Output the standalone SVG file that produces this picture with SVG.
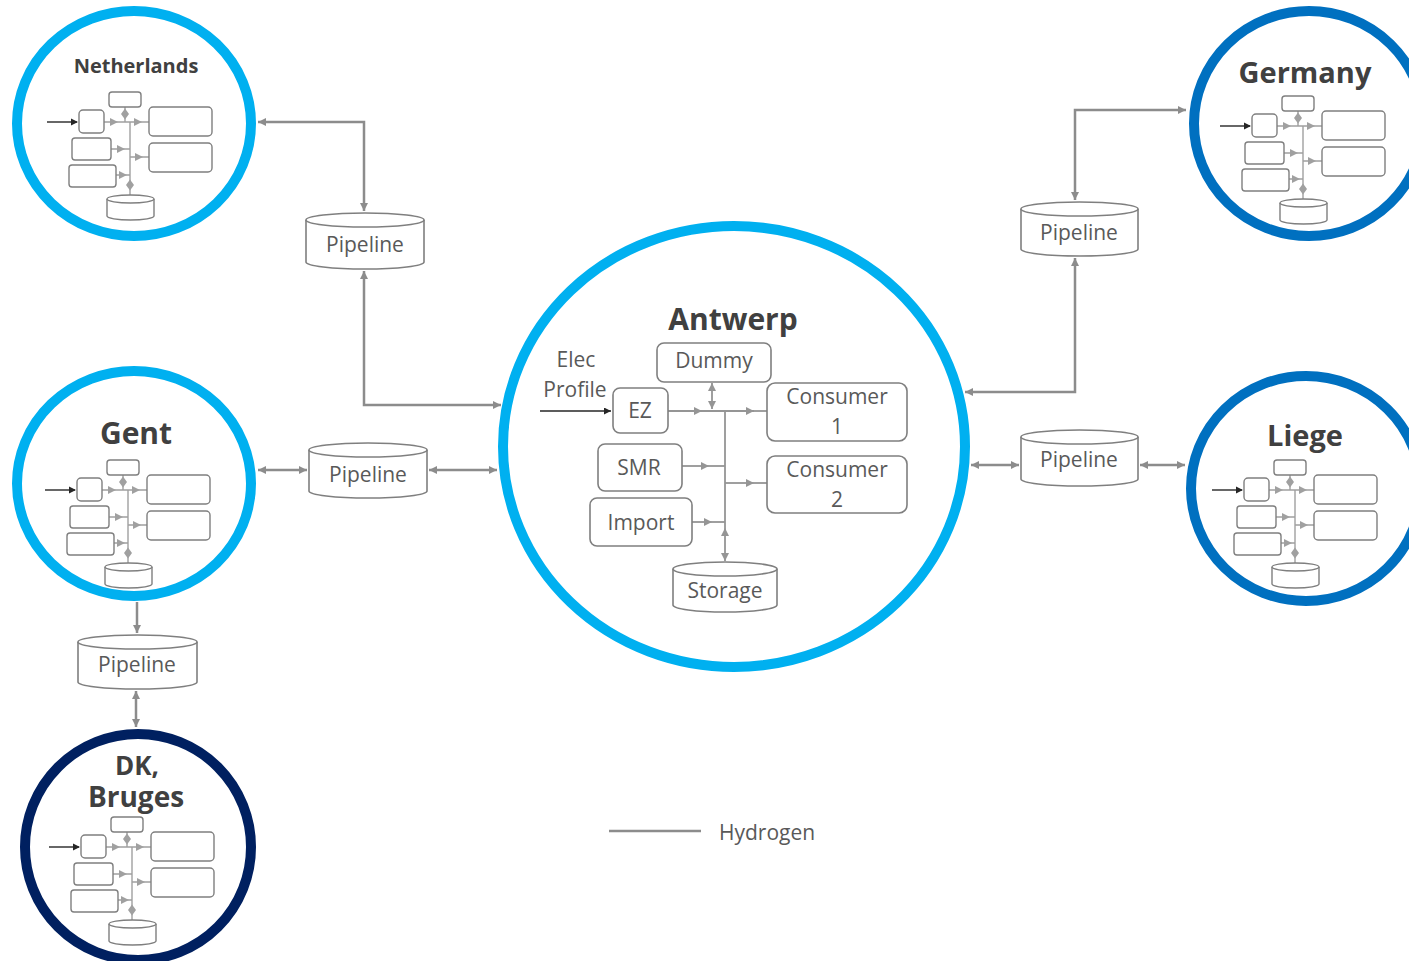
<svg xmlns="http://www.w3.org/2000/svg" xmlns:xlink="http://www.w3.org/1999/xlink" width="1409" height="961" viewBox="0 0 1409 961">
<style>
.t{font-family:"Open Sans","Liberation Sans",sans-serif;fill:#595959;font-size:21px;text-anchor:middle}
.ti{font-family:"Open Sans","Liberation Sans",sans-serif;fill:#404040;font-weight:bold;text-anchor:middle}
.bx{fill:#fff;stroke:#7f7f7f;stroke-width:1.6}
.mb{fill:#fff;stroke:#7f7f7f;stroke-width:1.4}
.cn{fill:none;stroke:#8c8c8c;stroke-width:2.5}
.ic{fill:none;stroke:#959595;stroke-width:1.8}
.mc{fill:none;stroke:#a0a0a0;stroke-width:1.4}
.ring{fill:none;stroke-width:10}
</style>
<defs>
<marker id="ah" viewBox="0 0 10 10" refX="10" refY="5" markerWidth="9" markerHeight="8" orient="auto-start-reverse" markerUnits="userSpaceOnUse"><path d="M0,0 L10,5 L0,10 z" fill="#8c8c8c"/></marker>
<marker id="ahs" viewBox="0 0 10 10" refX="10" refY="5" markerWidth="9" markerHeight="8" orient="auto-start-reverse" markerUnits="userSpaceOnUse"><path d="M0,0 L10,5 L0,10 z" fill="#959595"/></marker>
<marker id="ahk" viewBox="0 0 10 10" refX="10" refY="5" markerWidth="8" markerHeight="7" orient="auto" markerUnits="userSpaceOnUse"><path d="M0,0 L10,5 L0,10 z" fill="#262626"/></marker>
<g id="mini">
<path d="M-83 0 H-53" stroke="#262626" stroke-width="1.4" fill="none"/>
<polygon points="-59,-3.5 -52,0 -59,3.5" fill="#262626"/>
<path class="mc" d="M-26 0 H19 M0 0 V73 M-19 27 H0 M-14 53 H0 M0 35 H19 M-5 -15 V0"/>
<g fill="#a0a0a0">
<polygon points="-20,-4 -12,0 -20,4"/>
<polygon points="4,-4 12,0 4,4"/>
<polygon points="-13,23 -5,27 -13,31"/>
<polygon points="-11,49 -3,53 -11,57"/>
<polygon points="5,31 13,35 5,39"/>
<polygon points="-5,-13.5 -1,-8 -5,-2.5 -9,-8"/>
<polygon points="0,57.5 4,63 0,68.5 -4,63"/>
</g>
<rect class="mb" x="-21" y="-30" width="32" height="15" rx="3"/>
<rect class="mb" x="-51" y="-12" width="25" height="23" rx="4"/>
<rect class="mb" x="19" y="-15" width="63" height="29" rx="4"/>
<rect class="mb" x="19" y="21" width="63" height="29" rx="4"/>
<rect class="mb" x="-58" y="16" width="39" height="22" rx="3"/>
<rect class="mb" x="-61" y="43" width="47" height="22" rx="3"/>
<path class="mb" d="M-23 77 V94 A23.5 4 0 0 0 24 94 V77"/>
<ellipse class="mb" cx="0.5" cy="77" rx="23.5" ry="4"/>
</g>
</defs>
<rect width="1409" height="961" fill="#fff"/>

<g id="connectors">
<path class="cn" d="M258 122 H364 V211" marker-start="url(#ah)" marker-end="url(#ah)"/>
<path class="cn" d="M364 271 V405 H501" marker-start="url(#ah)" marker-end="url(#ah)"/>
<path class="cn" d="M258 470 H307" marker-start="url(#ah)" marker-end="url(#ah)"/>
<path class="cn" d="M429 470 H497" marker-start="url(#ah)" marker-end="url(#ah)"/>
<path class="cn" d="M137 602 V633" marker-end="url(#ah)"/>
<path class="cn" d="M136 691 V727" marker-start="url(#ah)" marker-end="url(#ah)"/>
<path class="cn" d="M965 392 H1075 V258" marker-start="url(#ah)" marker-end="url(#ah)"/>
<path class="cn" d="M1075 200 V110 H1186" marker-start="url(#ah)" marker-end="url(#ah)"/>
<path class="cn" d="M971 465 H1019" marker-start="url(#ah)" marker-end="url(#ah)"/>
<path class="cn" d="M1140 465 H1185" marker-start="url(#ah)" marker-end="url(#ah)"/>
</g>

<g id="pipeline-nl">
<path class="bx" d="M306 220 V262 A59 7 0 0 0 424 262 V220"/>
<ellipse class="bx" cx="365" cy="220" rx="59" ry="7"/>
<text class="t" x="365" y="252">Pipeline</text>
</g>
<g id="pipeline-gent">
<path class="bx" d="M309 450 V491 A59 7 0 0 0 427 491 V450"/>
<ellipse class="bx" cx="368" cy="450" rx="59" ry="7"/>
<text class="t" x="368" y="482">Pipeline</text>
</g>
<g id="pipeline-dk">
<path class="bx" d="M78 642 V682 A59.5 7 0 0 0 197 682 V642"/>
<ellipse class="bx" cx="137.5" cy="642" rx="59.5" ry="7"/>
<text class="t" x="137" y="672">Pipeline</text>
</g>
<g id="pipeline-de">
<path class="bx" d="M1021 209 V249 A58.5 7 0 0 0 1138 249 V209"/>
<ellipse class="bx" cx="1079.5" cy="209" rx="58.5" ry="7"/>
<text class="t" x="1079" y="240">Pipeline</text>
</g>
<g id="pipeline-liege">
<path class="bx" d="M1021 437 V479 A58.5 7 0 0 0 1138 479 V437"/>
<ellipse class="bx" cx="1079.5" cy="437" rx="58.5" ry="7"/>
<text class="t" x="1079" y="467">Pipeline</text>
</g>

<g id="netherlands">
<use xlink:href="#mini" href="#mini" x="130" y="122"/>
<text class="ti" x="136" y="73" font-size="20">Netherlands</text>
<ellipse class="ring" cx="134" cy="123.5" rx="117" ry="112.5" stroke="#00B0F0"/>
</g>
<g id="gent">
<use xlink:href="#mini" href="#mini" x="128" y="490"/>
<text class="ti" x="136" y="444" font-size="30">Gent</text>
<ellipse class="ring" cx="134" cy="483.5" rx="117" ry="112.5" stroke="#00B0F0"/>
</g>
<g id="dk-bruges">
<use xlink:href="#mini" href="#mini" x="132" y="847"/>
<text class="ti" x="137" y="775" font-size="26">DK,</text>
<text class="ti" x="136" y="807" font-size="28">Bruges</text>
<ellipse class="ring" cx="138" cy="847" rx="113" ry="113" stroke="#002060"/>
</g>
<g id="germany">
<use xlink:href="#mini" href="#mini" x="1303" y="126"/>
<text class="ti" x="1305" y="83" font-size="29">Germany</text>
<ellipse class="ring" cx="1309" cy="123.5" rx="115" ry="112.5" stroke="#0070C0"/>
</g>
<g id="liege">
<use xlink:href="#mini" href="#mini" x="1295" y="490"/>
<text class="ti" x="1305" y="446" font-size="29">Liege</text>
<ellipse class="ring" cx="1306" cy="488.5" rx="115" ry="112.5" stroke="#0070C0"/>
</g>

<g id="antwerp">
<ellipse class="ring" cx="734" cy="446.5" rx="231" ry="220.5" stroke="#00B0F0"/>
<text class="ti" x="733" y="330" font-size="30">Antwerp</text>
<text class="t" x="576" y="367">Elec</text>
<text class="t" x="575" y="397">Profile</text>
<path d="M540 411 H611" stroke="#262626" stroke-width="1.6" fill="none" marker-end="url(#ahk)"/>
<path class="ic" d="M668 411 H702" marker-end="url(#ahs)"/>
<path class="ic" d="M702 411 H754" marker-end="url(#ahs)"/>
<path class="ic" d="M754 411 H767"/>
<path class="ic" d="M725 411 V528"/>
<path class="ic" d="M682 466 H709" marker-end="url(#ahs)"/>
<path class="ic" d="M709 466 H725"/>
<path class="ic" d="M692 522 H712" marker-end="url(#ahs)"/>
<path class="ic" d="M712 522 H725"/>
<path class="ic" d="M725 483 H754" marker-end="url(#ahs)"/>
<path class="ic" d="M754 483 H767"/>
<path class="ic" d="M712 383 V409" stroke-width="2.4" marker-start="url(#ahs)" marker-end="url(#ahs)"/>
<path class="ic" d="M725 528 V561" stroke-width="2.4" marker-start="url(#ahs)" marker-end="url(#ahs)"/>
<g id="dummy"><rect class="bx" x="657" y="343" width="114" height="39" rx="7"/><text class="t" x="714" y="368">Dummy</text></g>
<g id="ez"><rect class="bx" x="613" y="388" width="55" height="45" rx="7"/><text class="t" x="640" y="418">EZ</text></g>
<g id="consumer1"><rect class="bx" x="767" y="383" width="140" height="58" rx="8"/><text class="t" x="837" y="404">Consumer</text><text class="t" x="837" y="434">1</text></g>
<g id="smr"><rect class="bx" x="598" y="444" width="84" height="47" rx="7"/><text class="t" x="639" y="475">SMR</text></g>
<g id="consumer2"><rect class="bx" x="767" y="456" width="140" height="57" rx="8"/><text class="t" x="837" y="477">Consumer</text><text class="t" x="837" y="507">2</text></g>
<g id="import"><rect class="bx" x="590" y="498" width="102" height="48" rx="7"/><text class="t" x="641" y="530">Import</text></g>
<g id="storage"><path class="bx" d="M673 569 V605 A52 7 0 0 0 777 605 V569"/><ellipse class="bx" cx="725" cy="569" rx="52" ry="7"/><text class="t" x="725" y="598">Storage</text></g>
</g>

<g id="legend">
<path d="M609 831 H701" stroke="#8c8c8c" stroke-width="2.5"/>
<text class="t" x="719" y="840" style="text-anchor:start">Hydrogen</text>
</g>
</svg>
